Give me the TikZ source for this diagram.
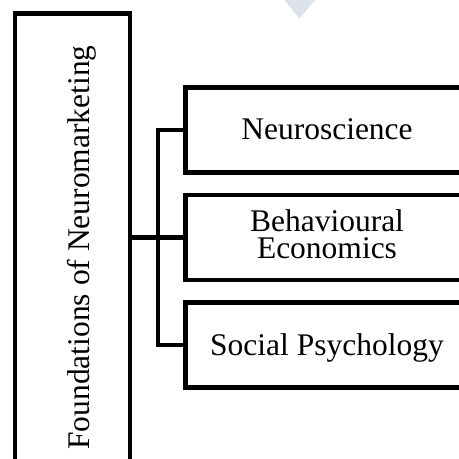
\documentclass[tikz,border=0pt]{standalone}
\usepackage{fontspec}
\setmainfont{Liberation Serif}
\definecolor{marker}{RGB}{220,226,232}
\begin{document}
\begin{tikzpicture}[x=1pt,y=-1pt,
  frame/.style={draw=black, line width=4.7pt, inner sep=0pt},
  subbox/.style={frame, minimum width=282.4pt, minimum height=85pt},
  txt/.style={font=\fontsize{31.5}{27.3}\selectfont, inner sep=0pt, anchor=base},
  link/.style={draw=black, line width=4.7pt, line join=miter}]
\useasboundingbox (0,0) rectangle (459,459);
\clip (0,0) rectangle (459,459);
\fill[marker] (282.5,-2) -- (316.5,-2) -- (299.5,18.5) -- cycle;
% main box
\node[frame, minimum width=115pt, minimum height=467.7pt] (found) at (72.5,247.2) {};
\node[txt, rotate=90] (foundtxt) at (89.5,247.5) {Foundations of Neuromarketing};
% sub boxes
\node[subbox] (neuro) at (327,130) {};
\node[subbox] (behav) at (327,237.5) {};
\node[subbox] (social) at (327,345) {};
\node[txt] (neurotxt) at (327,139.3) {Neuroscience};
\node[txt, anchor=center, align=center] (behavtxt) at (327,234) {Behavioural\\Economics};
\node[txt] (socialtxt) at (327,355) {Social Psychology};
% connectors
\coordinate (bus) at (158,237.5);
\draw[link] (found.east |- behav.west) -- (behav.west);
\draw[link] (neuro.west) -| (bus) |- (social.west);
\end{tikzpicture}
\end{document}
